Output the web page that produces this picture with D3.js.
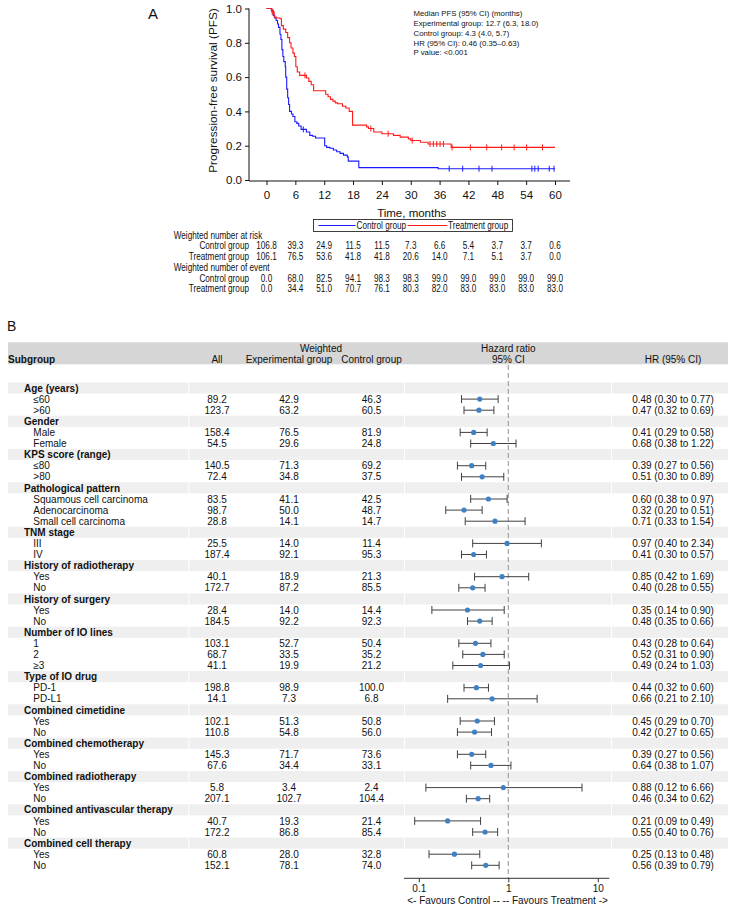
<!DOCTYPE html>
<html><head><meta charset="utf-8">
<script src="https://cdn.jsdelivr.net/npm/d3@7"></script>
<style>
body{margin:0;background:#fff}
svg{display:block}
text{font-family:"Liberation Sans",Arial,Helvetica,sans-serif;fill:#111}
</style>
</head><body>
<svg id="c" width="729" height="908"></svg>
<script>
// ---------- Panel A data ----------
const kmTicksX = [0,6,12,18,24,30,36,42,48,54,60];
const kmTicksY = [0,0.2,0.4,0.6,0.8,1.0];
const ctrlTime = [0,1.0,1.4,1.7,2.0,2.3,2.5,2.8,3.0,3.2,3.4,3.6,3.9,4.0,4.2,4.4,4.6,4.8,5.2,5.5,5.9,6.3,6.7,7.2,8.3,9.0,9.6,10.2,12.1,12.5,13.2,13.9,14.6,15.3,16.0,16.8,17.0,19.2,35.7];
const ctrlSurv = [1.0,0.99,0.96,0.945,0.93,0.91,0.89,0.85,0.82,0.76,0.72,0.69,0.66,0.60,0.53,0.48,0.44,0.40,0.385,0.37,0.34,0.33,0.315,0.295,0.28,0.26,0.255,0.245,0.20,0.19,0.185,0.175,0.165,0.155,0.145,0.135,0.11,0.072,0.066];
const ctrlCensor = [7.65,38.0,40.8,44.2,46.9,55.2,55.8,56.5,58.8,59.8];
const trtTime = [0,1.1,1.6,2.0,2.8,3.1,3.5,4.0,4.4,4.8,5.1,5.5,5.8,6.1,6.4,6.9,8.3,8.8,9.3,9.8,12.3,12.8,13.3,13.8,14.3,14.8,15.8,16.5,17.2,17.9,20.8,21.2,22.3,24.0,26.4,27.8,29.5,30.0,32.0,33.6,38.4];
const trtSurv = [1.0,0.98,0.95,0.945,0.94,0.90,0.88,0.86,0.83,0.80,0.77,0.74,0.72,0.66,0.63,0.61,0.595,0.575,0.555,0.52,0.50,0.485,0.47,0.46,0.45,0.445,0.43,0.42,0.40,0.32,0.31,0.30,0.28,0.27,0.26,0.25,0.24,0.23,0.22,0.21,0.19];
const trtCensor = [1.2,8.0,21.7,25.3,30.3,34.0,34.7,35.4,36.1,36.8,38.6,42.4,45.8,48.9,51.5,54.1,57.4];
const kmEnd = 60;
const statsLines = ["Median PFS (95% CI) (months)","Experimental group: 12.7 (6.3, 18.0)","Control group: 4.3 (4.0, 5.7)","HR (95% CI): 0.46 (0.35\u20130.63)","P value: <0.001"];
const riskControl = [106.8,39.3,24.9,11.5,11.5,7.3,6.6,5.4,3.7,3.7,0.6];
const riskTreat = [106.1,76.5,53.6,41.8,41.8,20.6,14.0,7.1,5.1,3.7,0.0];
const eventControl = [0.0,68.0,82.5,94.1,98.3,98.3,99.0,99.0,99.0,99.0,99.0];
const eventTreat = [0.0,34.4,51.0,70.7,76.1,80.3,82.0,83.0,83.0,83.0,83.0];

// ---------- Panel B data ----------
const groupNames = ["Age (years)","Gender","KPS score (range)","Pathological pattern","TNM stage","History of radiotherapy","History of surgery","Number of IO lines","Type of IO drug","Combined cimetidine","Combined chemotherapy","Combined radiotherapy","Combined antivascular therapy","Combined cell therapy"];
const groupSizes = [2,2,2,3,2,2,2,3,2,2,2,2,2,2];
const subLabels = ["\u226460",">60","Male","Female","\u226480",">80","Squamous cell carcinoma","Adenocarcinoma","Small cell carcinoma","III","IV","Yes","No","Yes","No","1","2","\u22653","PD-1","PD-L1","Yes","No","Yes","No","Yes","No","Yes","No","Yes","No"];
const nAll = [89.2,123.7,158.4,54.5,140.5,72.4,83.5,98.7,28.8,25.5,187.4,40.1,172.7,28.4,184.5,103.1,68.7,41.1,198.8,14.1,102.1,110.8,145.3,67.6,5.8,207.1,40.7,172.2,60.8,152.1];
const nExp = [42.9,63.2,76.5,29.6,71.3,34.8,41.1,50.0,14.1,14.0,92.1,18.9,87.2,14.0,92.2,52.7,33.5,19.9,98.9,7.3,51.3,54.8,71.7,34.4,3.4,102.7,19.3,86.8,28.0,78.1];
const nCtl = [46.3,60.5,81.9,24.8,69.2,37.5,42.5,48.7,14.7,11.4,95.3,21.3,85.5,14.4,92.3,50.4,35.2,21.2,100.0,6.8,50.8,56.0,73.6,33.1,2.4,104.4,21.4,85.4,32.8,74.0];
const hrEst = [0.48,0.47,0.41,0.68,0.39,0.51,0.60,0.32,0.71,0.97,0.41,0.85,0.40,0.35,0.48,0.43,0.52,0.49,0.44,0.66,0.45,0.42,0.39,0.64,0.88,0.46,0.21,0.55,0.25,0.56];
const hrLo = [0.30,0.32,0.29,0.38,0.27,0.30,0.38,0.20,0.33,0.40,0.30,0.42,0.28,0.14,0.35,0.28,0.31,0.24,0.32,0.21,0.29,0.27,0.27,0.38,0.12,0.34,0.09,0.40,0.13,0.39];
const hrHi = [0.77,0.69,0.58,1.22,0.56,0.89,0.97,0.51,1.54,2.34,0.57,1.69,0.55,0.90,0.66,0.64,0.90,1.03,0.60,2.10,0.70,0.65,0.56,1.07,6.66,0.62,0.49,0.76,0.48,0.79];
const forestTicks = [0.1,1,10];

const svg = d3.select("#c");
const NARROW = 0.82;

// ================= Panel A =================
const A = svg.append("g");
A.append("text").attr("x",148).attr("y",19).style("font-size","15px").text("A");
const x = d3.scaleLinear().domain([0,60]).range([266.5,555]);
const y = d3.scaleLinear().domain([0,1]).range([180,8.5]);

const yAx = A.append("g").attr("transform","translate(249,0)")
  .call(d3.axisLeft(y).tickValues(kmTicksY).tickFormat(d3.format(".1f")).tickSize(4).tickPadding(3).tickSizeOuter(0));
yAx.select(".domain").remove();
yAx.selectAll("text").style("font-size","11.5px").attr("fill","#111");
A.append("line").attr("x1",249).attr("x2",249).attr("y1",y(1)).attr("y2",181).attr("stroke","#111");
const xAx = A.append("g").attr("transform","translate(0,181)")
  .call(d3.axisBottom(x).tickValues(kmTicksX).tickSize(4).tickPadding(6).tickSizeOuter(0));
xAx.select(".domain").remove();
xAx.selectAll("text").style("font-size","11.5px").attr("fill","#111");
A.append("line").attr("x1",249).attr("x2",570).attr("y1",181).attr("y2",181).attr("stroke","#111");
A.selectAll(".tick line").attr("stroke","#111");

A.append("text").attr("transform","translate(217,90.5) rotate(-90)").attr("text-anchor","middle")
  .style("font-size","11.8px").text("Progression-free survival (PFS)");
A.append("text").attr("x",x(30)+1).attr("y",217).attr("text-anchor","middle").style("font-size","11.5px").text("Time, months");

function stepLine(times, surv){
  const pts = times.map((t,i)=>[t,surv[i]]);
  pts.push([kmEnd, surv[surv.length-1]]);
  return d3.line().x(d=>x(d[0])).y(d=>y(d[1])).curve(d3.curveStepAfter)(pts);
}
function survAt(times, surv, t){
  let s = 1; for(let i=0;i<times.length;i++){ if(times[i]<=t) s = surv[i]; } return s;
}
const series = [
  {t:ctrlTime,s:ctrlSurv,c:ctrlCensor,col:"#1a1aff"},
  {t:trtTime,s:trtSurv,c:trtCensor,col:"#ff1a1a"}
];
series.forEach(sr=>{
  A.append("path").attr("d",stepLine(sr.t,sr.s)).attr("fill","none").attr("stroke",sr.col).attr("stroke-width",1.1);
  A.selectAll(null).data(sr.c).enter().append("line")
    .attr("x1",d=>x(d)).attr("x2",d=>x(d))
    .attr("y1",d=>y(survAt(sr.t,sr.s,d))-3).attr("y2",d=>y(survAt(sr.t,sr.s,d))+3)
    .attr("stroke",sr.col).attr("stroke-width",1);
});

A.selectAll(null).data(statsLines).enter().append("text")
  .attr("x",413.5).attr("y",(d,i)=>16+i*9.85).style("font-size","7.8px").text(d=>d);

function narrowText(sel, tx, ty, anchor, txt){
  return sel.append("text").attr("transform",`translate(${tx},${ty}) scale(${NARROW},1)`)
    .attr("text-anchor",anchor).style("font-size","10px").text(txt);
}

// legend
A.append("rect").attr("x",313.5).attr("y",219.5).attr("width",199).attr("height",12)
  .attr("fill","#fff").attr("stroke","#111").attr("stroke-width",0.8);
A.append("line").attr("x1",318.5).attr("x2",355.5).attr("y1",225.5).attr("y2",225.5).attr("stroke","#1a1aff");
narrowText(A,356.5,229,"start","Control group");
A.append("line").attr("x1",407.5).attr("x2",447.4).attr("y1",225.5).attr("y2",225.5).attr("stroke","#ff1a1a");
narrowText(A,448,229,"start","Treatment group");

// risk table
const fmt1 = d3.format(".1f");
const riskRows = [
  {label:"Weighted number at risk",head:true,y:235},
  {label:"Control group",vals:riskControl,y:245.7},
  {label:"Treatment group",vals:riskTreat,y:256},
  {label:"Weighted number of event",head:true,y:267.7},
  {label:"Control group",vals:eventControl,y:278.3},
  {label:"Treatment group",vals:eventTreat,y:288.3}
];
riskRows.forEach(r=>{
  if(r.head){
    narrowText(A,173.7,r.y+3.5,"start",r.label);
  } else {
    narrowText(A,249,r.y+3.5,"end",r.label);
    A.selectAll(null).data(r.vals).enter().append("text")
      .attr("transform",(d,i)=>`translate(${x(kmTicksX[i])},${r.y+3.5}) scale(${NARROW},1)`)
      .attr("text-anchor","middle").style("font-size","10px").text(d=>fmt1(d));
  }
});

// ================= Panel B =================
const B = svg.append("g");
B.append("text").attr("x",7).attr("y",331).style("font-size","14px").text("B");

const colSub = 8, colAll = 217, colExp = 289, colCtl = 371.5, colHR = 673;
const fx = d3.scaleLog().domain([0.1,10]).range([418.8,597.8]);
const fsz = "10px";

B.append("rect").attr("x",8).attr("y",342.3).attr("width",720).attr("height",22).attr("fill","#d6d6d6");
const hdr = [
  {t:"Weighted",x:321,y:348.3,a:"middle"},
  {t:"Hazard ratio",x:fx(1),y:348.3,a:"middle"},
  {t:"Subgroup",x:colSub,y:359,a:"start",b:true},
  {t:"All",x:colAll,y:359,a:"middle"},
  {t:"Experimental group",x:colExp,y:359,a:"middle"},
  {t:"Control group",x:colCtl,y:359,a:"middle"},
  {t:"95% CI",x:fx(1),y:359,a:"middle"},
  {t:"HR (95% CI)",x:colHR,y:359,a:"middle"}
];
B.selectAll(null).data(hdr).enter().append("text")
  .attr("x",d=>d.x).attr("y",d=>d.y+3.5).attr("text-anchor",d=>d.a)
  .style("font-size",fsz).style("font-weight",d=>d.b?"bold":"normal").text(d=>d.t);

const rows = [];
let k = 0;
groupNames.forEach((g,gi)=>{
  rows.push({type:"group",label:g});
  for(let j=0;j<groupSizes[gi];j++){ rows.push({type:"sub",idx:k}); k++; }
});
const rowY0 = 388, pitch = 11.1;
const segs = [[8,188.3],[189.3,404],[405,611],[612,728]];
rows.forEach((r,i)=>{
  const cy = rowY0 + i*pitch;
  if(r.type==="group"){
    segs.forEach(s=>B.append("rect").attr("x",s[0]).attr("y",cy-5.55).attr("width",s[1]-s[0]).attr("height",pitch).attr("fill","#efefef"));
  }
});

B.append("line").attr("x1",fx(1)).attr("x2",fx(1)).attr("y1",365).attr("y2",878)
  .attr("stroke","#9a9a9a").attr("stroke-width",1.1).attr("stroke-dasharray","5,3");

const fmt2 = d3.format(".2f");
rows.forEach((r,i)=>{
  const cy = rowY0 + i*pitch;
  if(r.type==="group"){
    B.append("text").attr("x",24).attr("y",cy+3.6).style("font-size",fsz).style("font-weight","bold").text(r.label);
  } else {
    const d = r.idx;
    B.append("text").attr("x",33.3).attr("y",cy+3.6).style("font-size",fsz).text(subLabels[d]);
    B.append("text").attr("x",colAll).attr("y",cy+3.6).attr("text-anchor","middle").style("font-size",fsz).text(fmt1(nAll[d]));
    B.append("text").attr("x",colExp).attr("y",cy+3.6).attr("text-anchor","middle").style("font-size",fsz).text(fmt1(nExp[d]));
    B.append("text").attr("x",colCtl).attr("y",cy+3.6).attr("text-anchor","middle").style("font-size",fsz).text(fmt1(nCtl[d]));
    B.append("text").attr("x",colHR).attr("y",cy+3.6).attr("text-anchor","middle").style("font-size",fsz)
      .text(fmt2(hrEst[d])+" ("+fmt2(hrLo[d])+" to "+fmt2(hrHi[d])+")");
    const g = B.append("g").attr("stroke","#404040").attr("stroke-width",1);
    g.append("line").attr("x1",fx(hrLo[d])).attr("x2",fx(hrHi[d])).attr("y1",cy).attr("y2",cy);
    g.append("line").attr("x1",fx(hrLo[d])).attr("x2",fx(hrLo[d])).attr("y1",cy-4).attr("y2",cy+4);
    g.append("line").attr("x1",fx(hrHi[d])).attr("x2",fx(hrHi[d])).attr("y1",cy-4).attr("y2",cy+4);
    B.append("circle").attr("cx",fx(hrEst[d])).attr("cy",cy).attr("r",2.6).attr("fill","#3f82c4");
  }
});

const fAx = B.append("g").attr("transform","translate(0,878.3)")
  .call(d3.axisBottom(fx).tickValues(forestTicks).tickFormat(d3.format("~g")).tickSize(4).tickPadding(3).tickSizeOuter(0));
fAx.select(".domain").remove();
fAx.selectAll("text").style("font-size",fsz).attr("fill","#111");
fAx.selectAll(".tick line").attr("stroke","#333");
B.append("line").attr("x1",404).attr("x2",609.3).attr("y1",878.3).attr("y2",878.3).attr("stroke","#333");
B.append("text").attr("x",507.5).attr("y",903.5).attr("text-anchor","middle").style("font-size",fsz)
  .text("<- Favours Control -- -- Favours Treatment ->");
</script>
</body></html>
